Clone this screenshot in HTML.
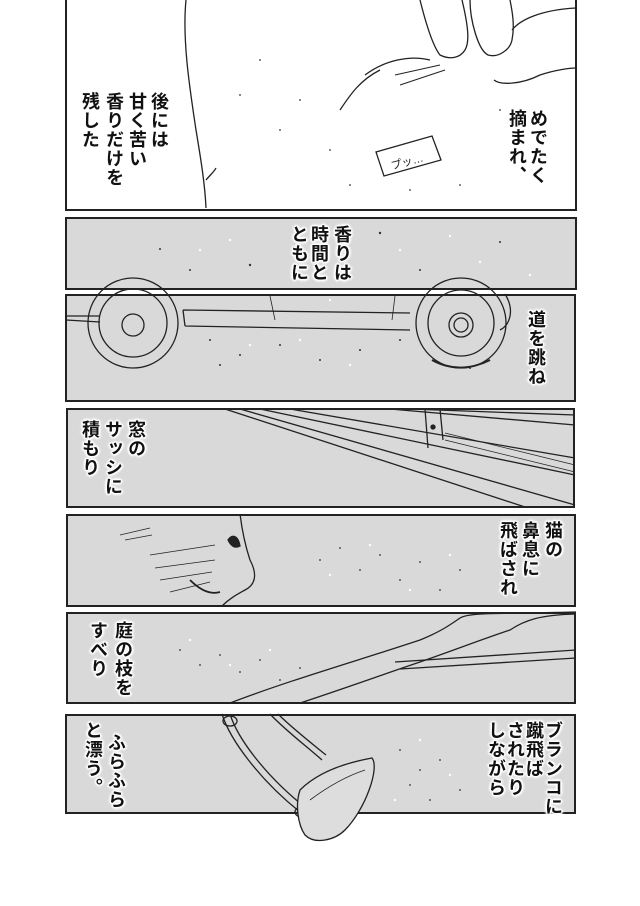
<!DOCTYPE html>
<html><head><meta charset="utf-8"><style>
html,body{margin:0;padding:0;background:#fff;}
body{width:640px;height:906px;position:relative;overflow:hidden;}
.p{position:absolute;background:#d9d9d9;border:2px solid #222;box-sizing:border-box;}
.c{position:absolute;writing-mode:vertical-rl;font-family:"Liberation Sans","Noto Sans CJK JP",sans-serif;font-weight:bold;font-size:18px;line-height:19px;letter-spacing:1px;color:#111;width:19px;
text-shadow:0 0 2px #fff,0 0 2px #fff,1px 1px 1px #fff,-1px -1px 1px #fff,1px -1px 1px #fff,-1px 1px 1px #fff,2px 0 2px #fff,-2px 0 2px #fff,0 2px 2px #fff,0 -2px 2px #fff;}
svg{position:absolute;left:0;top:0;}
</style></head><body>
<div class="p" style="left:65px;top:-2px;width:512px;height:213px;background:#fff"></div>
<div class="p" style="left:65px;top:217px;width:512px;height:73px"></div>
<div class="p" style="left:65px;top:294px;width:511px;height:108px"></div>
<div class="p" style="left:66px;top:408px;width:509px;height:100px"></div>
<div class="p" style="left:66px;top:514px;width:510px;height:93px"></div>
<div class="p" style="left:66px;top:612px;width:510px;height:92px"></div>
<div class="p" style="left:65px;top:714px;width:511px;height:100px"></div>

<svg width="640" height="906" viewBox="0 0 640 906" fill="none" stroke="#222" stroke-width="1.3">
<path d="M186 0 C182 40 190 90 196 130 C201 160 205 185 206 208" />
<path d="M206 180 C210 175 214 172 216 168" />
<path d="M420 0 C425 20 432 45 440 55 C450 60 460 58 465 50 C470 42 468 25 462 0" />
<path d="M470 0 C470 20 478 50 488 55 C498 58 510 50 512 40 C515 25 512 10 510 0" />
<path d="M512 30 C520 20 540 10 576 8" />
<path d="M494 80 C500 85 520 85 540 75 C555 70 570 68 576 68" />
<path d="M380 70 C360 80 350 95 340 110 M365 75 C385 60 410 55 430 60" />
<path d="M395 75 L440 65 M400 85 L445 70" stroke-width="1"/>
<path d="M376 152 L432 136 L441 160 L384 176 Z" />
<text x="390" y="166" font-size="11" fill="#222" stroke="none" font-family="Liberation Sans,Noto Sans CJK JP,sans-serif" transform="rotate(-15 405 160)">プッ…</text>
<path d="M66 316 L100 316 M66 320 L100 322" />
<circle cx="133" cy="323" r="45"/><circle cx="133" cy="323" r="34"/><circle cx="133" cy="325" r="11"/>
<circle cx="461" cy="323" r="45"/><circle cx="461" cy="323" r="33"/><circle cx="461" cy="325" r="12"/><circle cx="461" cy="325" r="7"/>
<path d="M183 310 L410 313 M185 326 L410 330 M183 310 L185 326" />
<path d="M505 294 C515 310 510 325 500 330" />
<path d="M270 296 L275 320 M395 296 L392 320" stroke-width="0.8"/>
<path d="M432 360 C450 370 470 370 490 360" stroke-width="2"/>
<path d="M225 409 L525 507" />
<path d="M240 409 L575 505" />
<path d="M260 409 L575 475" />
<path d="M290 409 L575 458" />
<path d="M390 409 L575 425" />
<path d="M410 409 L575 415" />
<path d="M425 409 L428 448 M440 409 L443 440" />
<path d="M445 433 L575 465 M445 440 L575 472" stroke-width="0.8"/>
<circle cx="433" cy="427" r="2" fill="#222"/>
<path d="M240 514 C242 530 245 545 250 560 C258 575 255 585 245 590 C238 594 230 598 222 606" />
<path d="M228 540 C232 534 238 535 240 546 C236 548 232 548 228 540 Z" fill="#222"/>
<path d="M150 555 L215 545 M155 568 L215 560 M160 580 L212 572 M170 592 L210 582" stroke-width="0.8"/>
<path d="M120 535 L150 528 M125 540 L152 535" stroke-width="0.8"/>
<path d="M190 580 C200 590 210 595 220 592" stroke-width="1.8"/>
<path d="M230 703 C290 680 360 660 420 640 C440 632 450 625 460 618 C470 612 500 614 576 612" />
<path d="M300 703 C340 690 390 672 420 662 C460 648 480 640 510 630 C525 620 540 615 576 614" />
<path d="M395 662 L576 650 M400 669 L576 658" />
<path d="M222 714 C230 740 260 780 300 812 M230 714 C238 740 268 778 306 808" />
<path d="M270 714 C285 730 305 745 322 760 M278 714 C292 728 310 742 326 755" />
<ellipse cx="230" cy="721" rx="7" ry="5"/><ellipse cx="302" cy="812" rx="7" ry="5"/>
<path d="M300 790 C320 770 350 762 372 758 C380 768 365 810 345 830 C335 840 315 845 305 835 C298 825 295 805 300 790 Z" fill="#ddd"/>
<path d="M310 800 C330 785 350 775 365 770" stroke-width="0.8"/>
</svg>

<svg width="640" height="906" viewBox="0 0 640 906" stroke="none">
<g fill="#333">
<circle cx="260" cy="60" r="0.9"/><circle cx="300" cy="100" r="0.9"/><circle cx="330" cy="150" r="0.9"/><circle cx="280" cy="130" r="0.9"/><circle cx="240" cy="95" r="0.9"/><circle cx="350" cy="185" r="0.9"/><circle cx="410" cy="190" r="0.9"/><circle cx="460" cy="185" r="0.9"/><circle cx="500" cy="110" r="0.9"/>
<circle cx="160" cy="249" r="1"/><circle cx="190" cy="270" r="1"/><circle cx="250" cy="265" r="1.2"/><circle cx="380" cy="233" r="1.2"/><circle cx="420" cy="270" r="1"/><circle cx="500" cy="242" r="1"/>
<circle cx="210" cy="340" r="1"/><circle cx="240" cy="355" r="1"/><circle cx="280" cy="345" r="1"/><circle cx="320" cy="360" r="1"/><circle cx="360" cy="350" r="1"/><circle cx="400" cy="340" r="1"/><circle cx="220" cy="365" r="1"/><circle cx="470" cy="368" r="1"/>
<circle cx="320" cy="560" r="0.9"/><circle cx="340" cy="548" r="0.9"/><circle cx="360" cy="570" r="0.9"/><circle cx="380" cy="555" r="0.9"/><circle cx="400" cy="580" r="0.9"/><circle cx="420" cy="562" r="0.9"/><circle cx="440" cy="590" r="0.9"/><circle cx="460" cy="570" r="0.9"/>
<circle cx="180" cy="650" r="0.9"/><circle cx="200" cy="665" r="0.9"/><circle cx="220" cy="655" r="0.9"/><circle cx="240" cy="672" r="0.9"/><circle cx="260" cy="660" r="0.9"/><circle cx="280" cy="680" r="0.9"/><circle cx="300" cy="668" r="0.9"/>
<circle cx="400" cy="750" r="0.9"/><circle cx="420" cy="770" r="0.9"/><circle cx="440" cy="760" r="0.9"/><circle cx="460" cy="790" r="0.9"/><circle cx="430" cy="800" r="0.9"/><circle cx="410" cy="785" r="0.9"/>
</g>
<g fill="#fff">
<circle cx="200" cy="250" r="1.2"/><circle cx="230" cy="240" r="1.2"/><circle cx="400" cy="250" r="1.2"/><circle cx="450" cy="236" r="1.2"/><circle cx="480" cy="262" r="1.2"/><circle cx="530" cy="275" r="1.2"/>
<circle cx="250" cy="345" r="1.2"/><circle cx="300" cy="340" r="1.2"/><circle cx="350" cy="365" r="1.2"/><circle cx="330" cy="300" r="1.2"/>
<circle cx="330" cy="575" r="1.2"/><circle cx="370" cy="545" r="1.2"/><circle cx="410" cy="590" r="1.2"/><circle cx="450" cy="555" r="1.2"/>
<circle cx="190" cy="640" r="1.2"/><circle cx="230" cy="665" r="1.2"/><circle cx="270" cy="650" r="1.2"/>
<circle cx="420" cy="740" r="1.2"/><circle cx="450" cy="775" r="1.2"/><circle cx="395" cy="800" r="1.2"/>
</g>
</svg>

<div class="c" style="left:149px;top:92px">後には</div>
<div class="c" style="left:127px;top:92px">甘く苦い</div>
<div class="c" style="left:104px;top:92px">香りだけを</div>
<div class="c" style="left:80px;top:92px">残した</div>
<div class="c" style="left:528px;top:109px">めでたく</div>
<div class="c" style="left:507px;top:109px">摘まれ、</div>
<div class="c" style="left:332px;top:225px">香りは</div>
<div class="c" style="left:309px;top:225px">時間と</div>
<div class="c" style="left:289px;top:225px">ともに</div>
<div class="c" style="left:526px;top:310px">道を跳ね</div>
<div class="c" style="left:126px;top:420px">窓の</div>
<div class="c" style="left:103px;top:420px">サッシに</div>
<div class="c" style="left:80px;top:420px">積もり</div>
<div class="c" style="left:543px;top:521px">猫の</div>
<div class="c" style="left:520px;top:521px">鼻息に</div>
<div class="c" style="left:498px;top:521px">飛ばされ</div>
<div class="c" style="left:113px;top:621px">庭の枝を</div>
<div class="c" style="left:88px;top:621px">すべり</div>
<div class="c" style="left:543px;top:721px">ブランコに</div>
<div class="c" style="left:524px;top:721px">蹴飛ば</div>
<div class="c" style="left:505px;top:721px">されたり</div>
<div class="c" style="left:486px;top:721px">しながら</div>
<div class="c" style="left:106px;top:733px">ふらふら</div>
<div class="c" style="left:83px;top:721px">と漂う。</div>
</body></html>
